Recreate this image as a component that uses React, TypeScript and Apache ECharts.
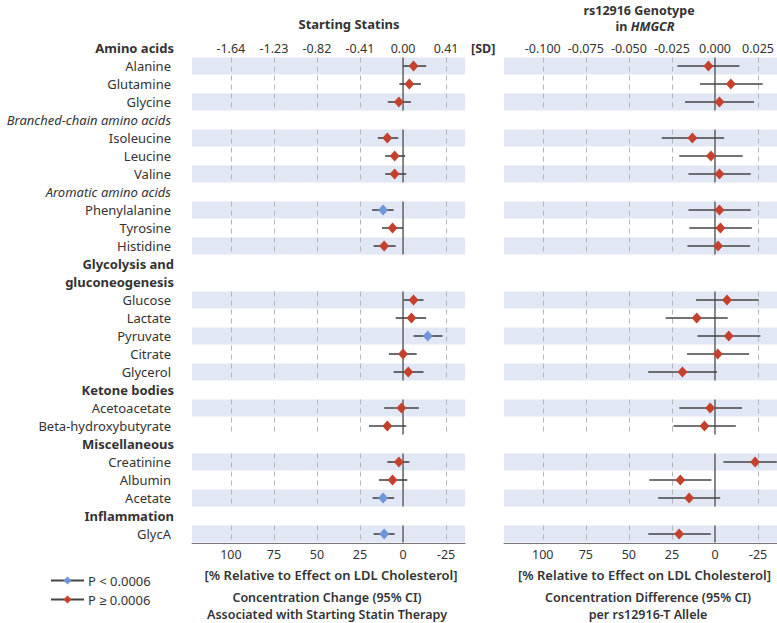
import React, { useEffect, useRef } from "react";
import * as echarts from "echarts";

const rowLabels = [
  "Amino acids", "Alanine", "Glutamine", "Glycine",
  "Branched-chain amino acids", "Isoleucine", "Leucine", "Valine",
  "Aromatic amino acids", "Phenylalanine", "Tyrosine", "Histidine",
  "Glycolysis and", "gluconeogenesis", "Glucose", "Lactate", "Pyruvate", "Citrate", "Glycerol",
  "Ketone bodies", "Acetoacetate", "Beta-hydroxybutyrate",
  "Miscellaneous", "Creatinine", "Albumin", "Acetate",
  "Inflammation", "GlycA",
];
// h = bold group header, s = italic subgroup header, d = metabolite row
const rowKinds = [
  "h", "d", "d", "d",
  "s", "d", "d", "d",
  "s", "d", "d", "d",
  "h", "h", "d", "d", "d", "d", "d",
  "h", "d", "d",
  "h", "d", "d", "d",
  "h", "d",
];

const metabolites = [
  "Alanine", "Glutamine", "Glycine", "Isoleucine", "Leucine", "Valine",
  "Phenylalanine", "Tyrosine", "Histidine", "Glucose", "Lactate", "Pyruvate",
  "Citrate", "Glycerol", "Acetoacetate", "Beta-hydroxybutyrate",
  "Creatinine", "Albumin", "Acetate", "GlycA",
];

// Starting statins (SD units)
const statinEst = [0.10, 0.06, -0.04, -0.15, -0.08, -0.08, -0.19, -0.10, -0.18, 0.10, 0.08, 0.235, 0.0, 0.05, -0.015, -0.15, -0.04, -0.10, -0.19, -0.18];
const statinLo = [0.0, -0.035, -0.145, -0.24, -0.17, -0.17, -0.295, -0.20, -0.28, 0.005, -0.07, 0.10, -0.135, -0.09, -0.18, -0.325, -0.15, -0.23, -0.29, -0.28];
const statinHi = [0.22, 0.17, 0.075, -0.045, 0.02, 0.03, -0.09, 0.0, -0.07, 0.195, 0.22, 0.375, 0.13, 0.195, 0.15, 0.03, 0.06, 0.04, -0.085, -0.08];
const statinSig = [0, 0, 0, 0, 0, 0, 1, 0, 0, 0, 0, 1, 0, 0, 0, 0, 0, 0, 1, 1];

// rs12916 genotype (SD per allele)
const geneEst = [-0.0038, 0.0092, 0.0026, -0.0131, -0.0023, 0.0026, 0.0026, 0.0032, 0.0018, 0.007, -0.0106, 0.008, 0.0016, -0.0189, -0.0028, -0.0061, 0.0233, -0.0201, -0.015, -0.0208];
const geneLo = [-0.0218, -0.0087, -0.0174, -0.0309, -0.0207, -0.0154, -0.0154, -0.0149, -0.016, -0.011, -0.0286, -0.0102, -0.0162, -0.0388, -0.0207, -0.0241, 0.0049, -0.0381, -0.033, -0.0387];
const geneHi = [0.0142, 0.0277, 0.0227, 0.0053, 0.0161, 0.0208, 0.0208, 0.0214, 0.0204, 0.0254, 0.0074, 0.0264, 0.0198, 0.0012, 0.0157, 0.0121, 0.0359, -0.0021, 0.003, -0.0024];
const geneSig = [0, 0, 0, 0, 0, 0, 0, 0, 0, 0, 0, 0, 0, 0, 0, 0, 0, 0, 0, 0];

const statinTicks = [-1.64, -1.23, -0.82, -0.41, 0, 0.41];
const geneTicks = [-0.1, -0.075, -0.05, -0.025, 0, 0.025];
const statinRange = [-2.01, 0.59];
const geneRange = [-0.1225, 0.036];
const ldlStatin = 1.64; // SD equal to 100% of LDL effect
const ldlGene = 0.1;

const legendNames = ["P < 0.0006", "P \u2265 0.0006"];

const FONT = "'Noto Sans', sans-serif";
const TXT = "#333";
const BLUE = "#6f96d8";
const RED = "#c4412e";
const BAND = "#e2e7f6";

export default function App() {
  const ref = useRef<HTMLDivElement>(null);
  useEffect(() => {
    if (!ref.current) return;
    const chart = echarts.init(ref.current, null, { renderer: "svg" });

    const rowOf = (name: string) => rowLabels.indexOf(name);

    // groups: contiguous runs of data rows
    const groups: number[][] = [];
    let cur: number[] | null = null;
    rowKinds.forEach((k, i) => {
      if (k === "d") {
        if (!cur) { cur = [i, i]; groups.push(cur); }
        else cur[1] = i;
      } else cur = null;
    });
    const bandRows: number[][] = [];
    groups.forEach(([a, b]) => {
      for (let r = a; r <= b; r += 2) bandRows.push([0, r]);
    });
    const groupData = groups.map(([a, b]) => [0, a, b]);

    const bandSeries = (gi: number) => ({
      type: "custom",
      xAxisIndex: gi * 2,
      yAxisIndex: gi,
      z: 0,
      silent: true,
      data: bandRows,
      encode: { x: 0, y: 1 },
      renderItem: (params: any, api: any) => {
        const c = api.coord([0, api.value(1)]);
        const h = api.size([0, 1])[1];
        return {
          type: "rect",
          shape: { x: params.coordSys.x, y: c[1] - h / 2 + 0.5, width: params.coordSys.width, height: h - 1 },
          style: { fill: BAND },
        };
      },
    });

    const gridSeries = (gi: number, ticks: number[]) => ({
      type: "custom",
      xAxisIndex: gi * 2,
      yAxisIndex: gi,
      z: 1,
      silent: true,
      data: groupData,
      encode: { x: 0, y: [1, 2] },
      renderItem: (params: any, api: any) => {
        const h = api.size([0, 1])[1];
        const y0 = api.coord([0, api.value(1)])[1] - h / 2 + 0.5;
        const y1 = api.coord([0, api.value(2)])[1] + h / 2 - 0.5;
        const children: any[] = ticks.filter((t) => t !== 0).map((t) => {
          const x = Math.round(api.coord([t, 0])[0]) + 0.5;
          return {
            type: "line",
            shape: { x1: x, y1: y0, x2: x, y2: y1 },
            style: { stroke: "#b5b5b5", lineWidth: 1, lineDash: [5, 4] },
          };
        });
        const x0 = api.coord([0, 0])[0];
        children.push({
          type: "line",
          shape: { x1: x0, y1: y0, x2: x0, y2: y1 },
          style: { stroke: "#6a6a6a", lineWidth: 1.6 },
        });
        return { type: "group", children };
      },
    });

    const errSeries = (gi: number, lo: number[], hi: number[]) => ({
      type: "custom",
      xAxisIndex: gi * 2,
      yAxisIndex: gi,
      z: 3,
      silent: true,
      data: metabolites.map((m, i) => [lo[i], hi[i], rowOf(m)]),
      encode: { x: [0, 1], y: 2 },
      renderItem: (params: any, api: any) => {
        const p0 = api.coord([api.value(0), api.value(2)]);
        const p1 = api.coord([api.value(1), api.value(2)]);
        return {
          type: "line",
          shape: { x1: p0[0], y1: p0[1], x2: p1[0], y2: p1[1] },
          style: { stroke: "#454545", lineWidth: 1.6 },
        };
      },
    });

    const pointSeries = (gi: number, est: number[], sig: number[], want: number) => ({
      type: "scatter",
      xAxisIndex: gi * 2,
      yAxisIndex: gi,
      z: 4,
      symbol: "diamond",
      symbolSize: [10, 11],
      itemStyle: { color: want ? BLUE : RED, opacity: 1 },
      data: metabolites
        .map((m, i) => (sig[i] === want ? [est[i], rowOf(m)] : null))
        .filter((d) => d !== null),
    });

    const xBottom = (gi: number, range: number[], ticks: number[], scale: number, pad: number) => ({
      type: "value",
      gridIndex: gi,
      position: "bottom",
      min: range[0],
      max: range[1],
      splitLine: { show: false },
      axisTick: { show: false },
      axisLine: { show: true, onZero: false, lineStyle: { color: "#777", width: 1 } },
      axisLabel: {
        customValues: ticks,
        margin: 5,
        color: TXT,
        fontFamily: FONT,
        fontSize: 12.5,
        formatter: (v: number) => String(Math.round((-v / scale) * 100) || 0),
      },
      name: "[% Relative to Effect on LDL Cholesterol]",
      nameLocation: "middle",
      nameGap: 25,
      nameTextStyle: { color: TXT, fontFamily: FONT, fontSize: 13, fontWeight: 600, padding: [0, 0, 0, pad] },
    });

    const xTop = (gi: number, range: number[], ticks: number[], digits: number, withName: boolean) => ({
      type: "value",
      gridIndex: gi,
      position: "top",
      offset: -9,
      min: range[0],
      max: range[1],
      splitLine: { show: false },
      axisTick: { show: false },
      axisLine: { show: false, onZero: false },
      axisLabel: {
        customValues: ticks,
        margin: 0,
        verticalAlign: "middle",
        color: TXT,
        fontFamily: FONT,
        fontSize: 12.5,
        formatter: (v: number) => v.toFixed(digits),
      },
      name: withName ? "[SD]" : "",
      nameLocation: "end",
      nameGap: 6,
      nameTextStyle: { color: TXT, fontFamily: FONT, fontSize: 12.5, fontWeight: "bold", verticalAlign: "middle" },
    });

    const option: any = {
      animation: false,
      backgroundColor: "#fff",
      textStyle: { fontFamily: FONT },
      grid: [
        { left: 192, width: 273, top: 39, height: 504 },
        { left: 504, width: 273, top: 39, height: 504 },
      ],
      xAxis: [
        xBottom(0, statinRange, statinTicks, ldlStatin, 5),
        xTop(0, statinRange, statinTicks, 2, true),
        xBottom(1, geneRange, geneTicks, ldlGene, 8),
        xTop(1, geneRange, geneTicks, 3, false),
      ],
      yAxis: [
        {
          type: "category",
          gridIndex: 0,
          inverse: true,
          data: rowLabels,
          axisLine: { show: false },
          axisTick: { show: false },
          splitLine: { show: false },
          axisLabel: {
            interval: 0,
            margin: 18,
            color: TXT,
            fontFamily: FONT,
            fontSize: 13,
            formatter: (v: string, i: number) =>
              rowKinds[i] === "h" ? `{b|${v}}` : rowKinds[i] === "s" ? `{i|${v}}` : `{n|${v}}`,
            rich: {
              b: { fontWeight: "bold", fontSize: 13, color: TXT, fontFamily: FONT },
              i: { fontStyle: "italic", fontSize: 13, color: TXT, fontFamily: FONT, padding: [0, 3, 0, 0] },
              n: { fontSize: 13, color: TXT, fontFamily: FONT, padding: [0, 3, 0, 0] },
            },
          },
        },
        {
          type: "category",
          gridIndex: 1,
          inverse: true,
          data: rowLabels,
          axisLine: { show: false },
          axisTick: { show: false },
          splitLine: { show: false },
          axisLabel: { show: false },
        },
      ],
      legend: {
        left: 50,
        top: 574,
        padding: 0,
        orient: "vertical",
        itemWidth: 33,
        itemHeight: 10,
        itemGap: 6,
        selectedMode: false,
        textStyle: { color: TXT, fontFamily: FONT, fontSize: 13, padding: [0, 0, 0, -1] },
        data: legendNames,
      },
      graphic: [
        {
          type: "text", x: 349, y: 24,
          style: { text: "Starting Statins", textAlign: "center", textVerticalAlign: "middle", fill: TXT, font: `bold 13px ${FONT}` },
        },
        {
          type: "text", x: 639, y: 10,
          style: { text: "rs12916 Genotype", textAlign: "center", textVerticalAlign: "middle", fill: TXT, font: `bold 12.5px ${FONT}` },
        },
        {
          type: "text", x: 645, y: 26,
          style: {
            text: "in {it|HMGCR}",
            textAlign: "center", textVerticalAlign: "middle", fill: TXT, font: `bold 12.5px ${FONT}`,
            rich: { it: { fontStyle: "italic", fontWeight: "bold", fontSize: 12.5, fontFamily: FONT, fill: TXT } },
          },
        },
        {
          type: "text", x: 327, y: 597,
          style: { text: "Concentration Change (95% CI)", textAlign: "center", textVerticalAlign: "middle", fill: TXT, font: `600 12.5px ${FONT}` },
        },
        {
          type: "text", x: 327, y: 614,
          style: { text: "Associated with Starting Statin Therapy", textAlign: "center", textVerticalAlign: "middle", fill: TXT, font: `600 12.5px ${FONT}` },
        },
        {
          type: "text", x: 648, y: 597,
          style: { text: "Concentration Difference (95% CI)", textAlign: "center", textVerticalAlign: "middle", fill: TXT, font: `600 12.5px ${FONT}` },
        },
        {
          type: "text", x: 648, y: 614,
          style: { text: "per rs12916-T Allele", textAlign: "center", textVerticalAlign: "middle", fill: TXT, font: `600 12.5px ${FONT}` },
        },
      ],
      series: [
        bandSeries(0),
        gridSeries(0, statinTicks),
        errSeries(0, statinLo, statinHi),
        pointSeries(0, statinEst, statinSig, 1),
        pointSeries(0, statinEst, statinSig, 0),
        bandSeries(1),
        gridSeries(1, geneTicks),
        errSeries(1, geneLo, geneHi),
        pointSeries(1, geneEst, geneSig, 1),
        pointSeries(1, geneEst, geneSig, 0),
        {
          type: "line", name: legendNames[0], xAxisIndex: 0, yAxisIndex: 0, data: [],
          symbol: "diamond", symbolSize: 9,
          lineStyle: { color: "#444", width: 1.6 }, itemStyle: { color: BLUE },
        },
        {
          type: "line", name: legendNames[1], xAxisIndex: 0, yAxisIndex: 0, data: [],
          symbol: "diamond", symbolSize: 9,
          lineStyle: { color: "#444", width: 1.6 }, itemStyle: { color: RED },
        },
      ],
    };
    chart.setOption(option);
    return () => chart.dispose();
  }, []);
  return <div ref={ref} style={{ width: 777, height: 623, position: "absolute", left: 0, top: 0 }} />;
}
